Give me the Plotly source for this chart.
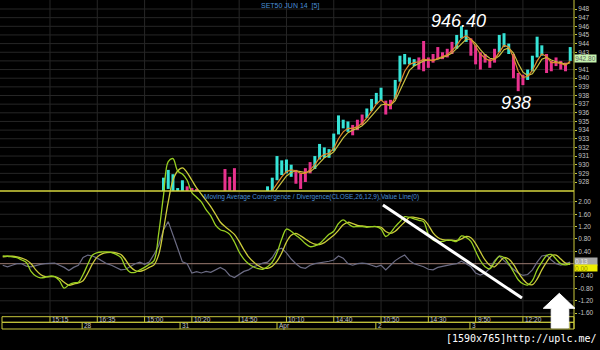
import plotly.graph_objects as go

# ---------------- data ----------------
n_bars = 121
bars = list(range(n_bars))

price_hi = [None] * 34 + [
    928.5, 929.4, 928.9, 927.3, 928.2, 927.5, 927.3, 927.2,          # 34-41
    None, None, None, None, None,                                     # 42-46
    929.5, 928.6, 929.6,                                              # 47-49
    None, None, None, None, None, None,                               # 50-55
    927.5, 928.5, 931.0, 930.5, 930.6, 930.0, 929.4, 929.0, 929.6, 930.3,  # 56-65
    931.0, 932.4, 932.0, 931.8, 933.6, 935.7, 935.2, 935.0, 934.6, 935.2,  # 66-75
    935.8, 936.5, 937.6, 938.3, 938.9, 937.4, 937.5, 939.8, 942.6, 942.8,  # 76-85
    942.4, 942.2, 942.4, 944.3, 942.4, 942.8, 943.6, 943.0, 943.4, 944.2,  # 86-95
    945.0, 946.0, 945.6, 944.6, 943.8, 943.0, 942.8, 942.2, 943.4, 945.0,  # 96-105
    945.2, 944.0, 942.8, 940.6, 940.4, 941.0, 942.6, 944.8, 943.8, 942.8,  # 106-115
    942.0, 942.4, 942.0, 941.8, 943.6]                                # 116-120

price_lo = [None] * 34 + [
    926.0, 927.2, 926.5, 926.0, 926.5, 926.0, 926.0, 926.0,
    None, None, None, None, None,
    926.5, 927.0, 926.5,
    None, None, None, None, None, None,
    926.0, 926.5, 928.2, 928.8, 929.0, 928.6, 927.8, 927.2, 928.0, 929.0,
    929.5, 930.6, 930.8, 930.8, 931.6, 933.5, 934.2, 933.8, 933.4, 934.0,
    934.6, 935.4, 936.2, 937.0, 937.4, 935.8, 936.4, 937.6, 939.6, 941.6,
    941.6, 941.4, 941.0, 940.8, 941.2, 941.8, 942.2, 942.2, 942.4, 942.8,
    943.4, 944.6, 944.2, 942.6, 941.6, 941.0, 941.8, 941.2, 941.8, 943.0,
    943.6, 942.8, 940.0, 938.5, 939.2, 939.8, 940.8, 942.4, 942.6, 940.6,
    940.8, 941.4, 941.0, 940.8, 942.0]

# bar direction: u = rising (cyan), d = falling (magenta)
bar_dir = list(
    "." * 34 + "uuuuuddd" + "....." + "ddd" + "......" +
    "uuuuuu" + "dddd" + "uuuuuuuu" + "ddd" + "uuuu" + "dd" + "uuuuu" +
    "dddddddd" + "uuu" + "dddddd" + "uuu" + "ddd" + "uuuu" + "ddddd" + "u")

ma_fast = [None] * 57 + [
    927.0, 927.8, 928.6, 929.2, 929.4, 929.3, 929.0, 929.0, 929.4, 930.0,
    930.8, 931.2, 931.3, 931.9, 933.0, 933.8, 934.2, 934.2, 934.4, 934.8,
    935.4, 936.2, 937.0, 937.5, 937.0, 936.8, 937.8, 939.4, 940.8, 941.6,
    941.8, 941.9, 942.2, 942.1, 942.0, 942.3, 942.5, 942.7, 943.2, 943.8,
    944.6, 944.9, 944.5, 943.6, 942.8, 942.3, 942.0, 942.2, 943.0, 943.8,
    943.6, 942.4, 940.8, 940.1, 940.2, 940.9, 942.0, 942.8, 942.5, 941.8,
    941.8, 941.7, 941.5, 942.0]

ma_slow = [None] * 57 + [
    926.5, 927.2, 928.0, 928.7, 929.1, 929.3, 929.2, 929.1, 929.2, 929.6,
    930.2, 930.8, 931.1, 931.5, 932.3, 933.1, 933.7, 934.0, 934.2, 934.5,
    935.0, 935.6, 936.3, 936.9, 937.0, 936.9, 937.4, 938.6, 939.9, 940.9,
    941.4, 941.7, 942.0, 942.1, 942.1, 942.2, 942.4, 942.6, 942.9, 943.4,
    944.0, 944.5, 944.5, 944.0, 943.3, 942.7, 942.3, 942.2, 942.6, 943.3,
    943.5, 942.9, 941.7, 940.7, 940.3, 940.5, 941.3, 942.2, 942.4, 942.1,
    941.9, 941.8, 941.6, 941.8]

macd = [
    0.25, 0.24, 0.22, 0.20, 0.12, 0.04, -0.25, -0.40, -0.46, -0.44,
    -0.40, -0.42, -0.55, -0.79, -0.68, -0.62, -0.60, -0.35, -0.02, 0.28,
    0.36, 0.38, 0.38, 0.36, 0.30, 0.20, -0.12, -0.28, -0.28, -0.20,
    -0.12, -0.02, 0.10, 1.00, 2.20, 3.30, 3.40, 3.00, 2.90, 2.70,
    2.30, 2.15, 2.00, 1.75, 1.55, 1.25, 1.10, 1.05, 0.95, 0.70,
    0.38, 0.15, 0.00, -0.10, -0.16, -0.18, -0.10, 0.05, 0.35, 0.80,
    1.12, 1.05, 0.92, 0.80, 0.65, 0.55, 0.58, 0.65, 0.80, 0.95,
    1.05, 1.30, 1.42, 1.30, 1.20, 1.20, 1.20, 1.18, 1.20, 1.20,
    1.12, 0.88, 1.00, 1.20, 1.36, 1.52, 1.50, 1.45, 1.40, 1.36,
    0.95, 0.77, 0.72, 0.72, 0.76, 0.75, 0.72, 0.90, 0.85, 0.72,
    0.40, 0.10, -0.10, -0.17, 0.05, 0.24, 0.20, 0.00, -0.26, -0.52,
    -0.65, -0.69, -0.55, -0.20, 0.05, 0.26, 0.30, 0.15, 0.00, -0.04,
    0.02]

signal = [
    0.22, 0.24, 0.24, 0.22, 0.18, 0.12, 0.00, -0.20, -0.35, -0.42,
    -0.42, -0.42, -0.48, -0.60, -0.70, -0.66, -0.62, -0.55, -0.30, 0.00,
    0.22, 0.32, 0.36, 0.37, 0.35, 0.30, 0.12, -0.10, -0.22, -0.25,
    -0.20, -0.12, -0.04, 0.30, 1.10, 2.00, 2.70, 3.00, 3.10, 2.95,
    2.70, 2.45, 2.25, 2.05, 1.85, 1.60, 1.35, 1.20, 1.08, 0.95,
    0.72, 0.45, 0.22, 0.06, -0.06, -0.14, -0.15, -0.08, 0.08, 0.35,
    0.70, 0.92, 0.98, 0.90, 0.80, 0.70, 0.63, 0.62, 0.68, 0.80,
    0.92, 1.08, 1.26, 1.34, 1.30, 1.24, 1.22, 1.20, 1.20, 1.20,
    1.18, 1.04, 0.98, 1.05, 1.20, 1.35, 1.50, 1.50, 1.47, 1.43,
    1.25, 1.00, 0.85, 0.78, 0.76, 0.76, 0.75, 0.80, 0.88, 0.84,
    0.65, 0.38, 0.12, -0.05, -0.10, 0.05, 0.20, 0.15, -0.02, -0.28,
    -0.50, -0.65, -0.68, -0.50, -0.20, 0.05, 0.25, 0.28, 0.15, 0.02,
    -0.02]

hist = [
    -0.05, -0.10, -0.05, 0.00, 0.00, -0.08, -0.10, -0.05, -0.02, 0.00,
    0.00, 0.02, -0.05, -0.12, -0.22, -0.12, -0.05, 0.20, 0.28, 0.25,
    0.18, 0.10, 0.00, -0.05, -0.12, -0.20, -0.18, -0.10, 0.00, 0.05,
    -0.02, 0.05, 0.30, 0.60, 1.10, 1.36, 0.90, 0.50, 0.06, 0.00,
    -0.30, -0.26, -0.30, -0.25, -0.28, -0.20, -0.12, -0.20, -0.38, -0.45,
    -0.35, -0.25, -0.20, -0.10, -0.05, 0.02, 0.05, 0.20, 0.45, 0.50,
    0.35, 0.15, 0.00, -0.12, -0.15, -0.05, 0.00, 0.02, 0.05, 0.08,
    0.12, 0.25, 0.18, 0.00, -0.05, 0.00, 0.02, 0.00, -0.05, -0.10,
    -0.05, -0.20, -0.05, 0.10, 0.20, 0.28, 0.10, 0.00, -0.05, -0.10,
    -0.18, -0.20, -0.12, -0.08, -0.05, -0.02, 0.00, 0.08, 0.00, -0.10,
    -0.30, -0.37, -0.30, -0.15, 0.10, 0.25, 0.10, -0.05, -0.18, -0.30,
    -0.38, -0.35, -0.20, 0.05, 0.25, 0.28, 0.12, 0.00, -0.05, 0.00,
    0.05]

price_ticks = [948, 947, 946, 945, 944, 943, 941, 940, 939, 938, 937, 936,
               935, 934, 933, 932, 931, 930, 929, 928]
price_grid = list(range(928, 949))
macd_ticks = [2.0, 1.6, 1.2, 0.8, 0.4, -0.4, -0.8, -1.2, -1.6]

time_tick_pos = [10, 20, 30, 40, 50, 60, 70, 80, 90, 100, 110]
time_tick_lbl = ["15:15", "16:35", "15:00", "10:20", "14:50", "10:10",
                 "14:40", "10:50", "14:30", "9:50", "12:20"]
day_tick_pos = [16.8, 37.5, 58.0, 78.9, 98.8, 119.9]
day_tick_lbl = ["28", "31", "Apr", "2", "3", ""]

last_price = 942.80
last_macd = 0.13
value_line = 0.00

# ---------------- geometry helpers ----------------
W, H = 600, 350
ML, MR, MT, MB = 0, 26, 0, 21
PW, PH = W - ML - MR, H - MT - MB


def px(x):
    return x / PW


def py(y):
    return (PH - y) / PH


CYAN = "#36e3d6"
MAG = "#e8328e"
YEL = "#c8c83c"
GRID = "#262626"

# ---------------- traces ----------------
fig = go.Figure()

for d, col in (("u", CYAN), ("d", MAG)):
    xs, ys = [], []
    for i, h, l, c in zip(bars, price_hi, price_lo, bar_dir):
        if c == d and h is not None:
            xs += [i, i, None]
            ys += [l, h, None]
    fig.add_trace(go.Scatter(x=xs, y=ys, mode="lines",
                             line=dict(color=col, width=3),
                             xaxis="x", yaxis="y", hoverinfo="skip"))

fig.add_trace(go.Scatter(x=bars, y=ma_slow, mode="lines",
                         line=dict(color="#c8c040", width=1.2),
                         xaxis="x", yaxis="y"))
fig.add_trace(go.Scatter(x=bars, y=ma_fast, mode="lines",
                         line=dict(color="#e08a2c", width=1.2),
                         xaxis="x", yaxis="y"))

fig.add_trace(go.Scatter(x=bars, y=hist, mode="lines",
                         line=dict(color="#6c6c84", width=1.2),
                         xaxis="x", yaxis="y2"))
fig.add_trace(go.Scatter(x=bars, y=signal, mode="lines",
                         line=dict(color="#cccc3a", width=1.3, shape="spline"),
                         xaxis="x", yaxis="y2"))
fig.add_trace(go.Scatter(x=bars, y=macd, mode="lines",
                         line=dict(color="#98d022", width=1.3, shape="spline"),
                         xaxis="x", yaxis="y2"))

# ---------------- shapes ----------------
shapes = []
for t in time_tick_pos:
    shapes.append(dict(type="line", xref="x", yref="paper", x0=t, x1=t,
                       y0=py(316), y1=1, line=dict(color=GRID, width=1),
                       layer="below"))
for g in price_grid:
    shapes.append(dict(type="line", xref="paper", yref="y", x0=0, x1=1,
                       y0=g, y1=g, line=dict(color=GRID, width=1),
                       layer="below"))
for g in macd_ticks:
    shapes.append(dict(type="line", xref="paper", yref="y2", x0=0, x1=1,
                       y0=g, y1=g, line=dict(color=GRID, width=1),
                       layer="below"))
# zero value line
shapes.append(dict(type="line", xref="paper", yref="y2", x0=0, x1=1,
                   y0=value_line, y1=value_line,
                   line=dict(color="#9c7c72", width=1), layer="below"))
# panel separator
shapes.append(dict(type="line", xref="paper", yref="paper", x0=0, x1=1,
                   y0=py(191), y1=py(191), line=dict(color="#d4d43c", width=1.5)))
# right axis line
shapes.append(dict(type="line", xref="paper", yref="paper", x0=1, x1=1,
                   y0=0, y1=1, line=dict(color=YEL, width=1)))
# bottom axis boxes
for y0, y1 in ((316.7, 322.3), (322.3, 329)):
    shapes.append(dict(type="rect", xref="paper", yref="paper",
                       x0=px(2), x1=1, y0=py(y1), y1=py(y0),
                       line=dict(color=YEL, width=1)))
for t in time_tick_pos:
    shapes.append(dict(type="line", xref="x", yref="paper", x0=t, x1=t,
                       y0=py(322.3), y1=py(316.7), line=dict(color=YEL, width=1)))
for t in day_tick_pos:
    shapes.append(dict(type="line", xref="x", yref="paper", x0=t, x1=t,
                       y0=py(329), y1=py(322.3), line=dict(color=YEL, width=1)))
# hand-drawn white trend line
shapes.append(dict(type="line", xref="x", yref="y2", x0=80.4, y0=1.9,
                   x1=109.8, y1=-1.11, line=dict(color="white", width=3)))
# white up arrow
pts = [(543.3, 308.3), (559.3, 293.3), (575, 308.3), (568.8, 308.3),
       (568.8, 328), (551.2, 328), (551.2, 308.3)]
path = "M " + " L ".join(f"{px(a):.4f},{py(b):.4f}" for a, b in pts) + " Z"
shapes.append(dict(type="path", xref="paper", yref="paper", path=path,
                   fillcolor="white", line=dict(color="white", width=1)))

# ---------------- annotations ----------------
ann = []
small = dict(family="Liberation Sans, Arial, sans-serif", size=6.5, color="#c4c4c4")
for t, lbl in zip(time_tick_pos, time_tick_lbl):
    ann.append(dict(x=t, y=py(319.5), xref="x", yref="paper", text=lbl,
                    showarrow=False, xanchor="left", yanchor="middle",
                    xshift=1, borderpad=0, font=small))
for t, lbl in zip(day_tick_pos, day_tick_lbl):
    if lbl:
        ann.append(dict(x=t, y=py(325.8), xref="x", yref="paper", text=lbl,
                        showarrow=False, xanchor="left", yanchor="middle",
                        xshift=1, borderpad=0, font=small))


def note(text, x, y, size, color, xanchor="center", family="Liberation Sans, Arial",
         **kw):
    d = dict(x=px(x), y=py(y), xref="paper", yref="paper", text=text,
             showarrow=False, xanchor=xanchor, yanchor="middle", borderpad=0,
             font=dict(family=family, size=size, color=color))
    d.update(kw)
    return d


ann.append(note("SET50 JUN 14 &nbsp;[5]", 290, 5.5, 7, "#4a8fd6"))
ann.append(note("Moving Average Convergence / Divergence(CLOSE,26,12,9),Value Line(0)",
                203, 196.5, 6.5, "#4a8fd6", xanchor="left"))
ann.append(note("<i>946.40</i>", 458, 20.5, 18, "white"))
ann.append(note("<i>938</i>", 516, 103, 18, "white"))
ann.append(note(f"{last_price:.2f}", 574, 58.4, 6.5, "#606060", xanchor="left",
                bgcolor="#c6f3ae", width=21, height=7))
ann.append(note(f"{last_macd:.2f}", 574, 261.5, 6.5, "#e8e8e8", xanchor="left",
                bgcolor="#a8a8a8", width=22, height=7, align="left"))
ann.append(note(f"{value_line:.2f}", 574, 268.3, 6.5, "#909000", xanchor="left",
                bgcolor="#eeee00", width=22, height=6, align="left"))
ann.append(note("[1590x765]http://uplc.me/", 445, 338.5, 10, "white",
                xanchor="left", family="DejaVu Sans Mono, monospace"))

# ---------------- layout ----------------
tickfont = dict(family="Liberation Sans, Arial, sans-serif", size=6.5, color="#c4c4c4")
fig.update_layout(
    width=W, height=H, margin=dict(l=ML, r=MR, t=MT, b=MB),
    paper_bgcolor="black", plot_bgcolor="rgba(0,0,0,0)", showlegend=False,
    xaxis=dict(domain=[0, 1], range=[-0.57, 120.8], anchor="y2",
               showgrid=False, zeroline=False, showticklabels=False,
               showline=False, fixedrange=True),
    yaxis=dict(domain=[py(191), 1], range=[926.96, 949.04], anchor="x",
               side="right", tickvals=price_ticks,
               ticktext=[str(v) for v in price_ticks], tickfont=tickfont,
               ticks="outside", ticklen=2, tickcolor=YEL,
               showgrid=False, zeroline=False, showline=False),
    yaxis2=dict(domain=[py(316), 1], range=[-1.693, 8.534], anchor="x",
                side="right", tickvals=macd_ticks,
                ticktext=[f"{v:.2f}" for v in macd_ticks], tickfont=tickfont,
                ticks="outside", ticklen=2, tickcolor=YEL,
                showgrid=False, zeroline=False, showline=False),
    shapes=shapes, annotations=ann,
)

fig.write_html("out.html")
